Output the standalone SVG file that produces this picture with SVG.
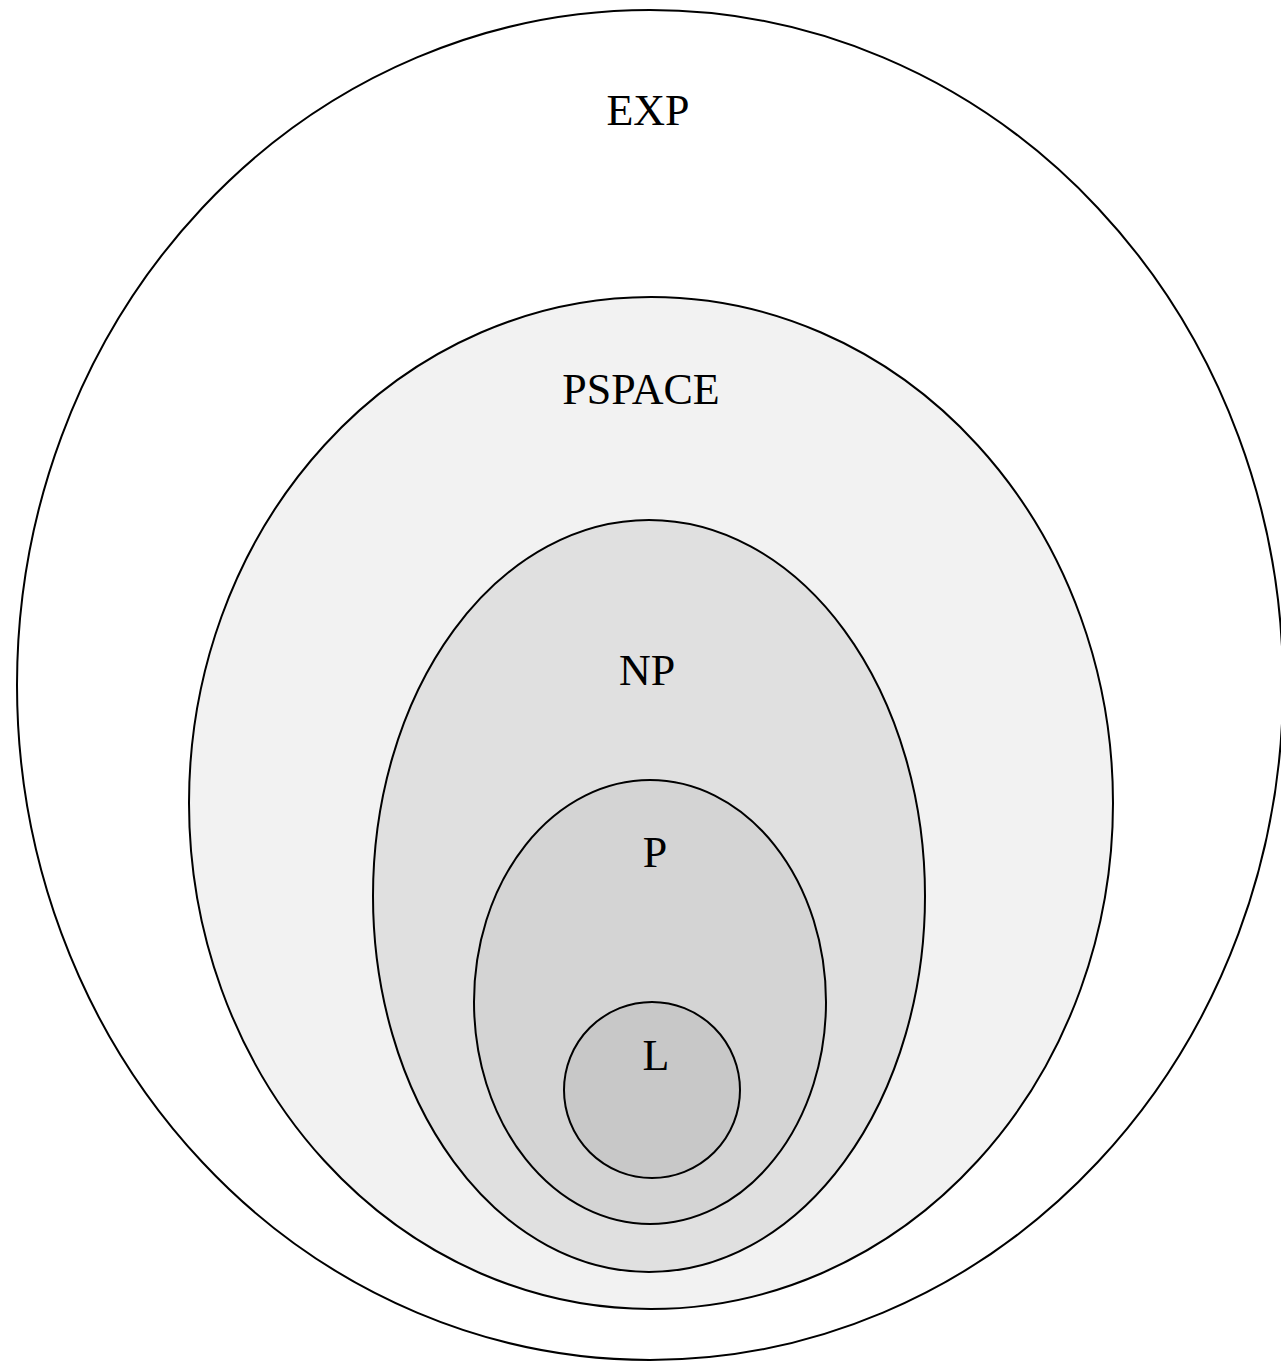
<svg xmlns="http://www.w3.org/2000/svg" width="1281" height="1362" viewBox="0 0 1281 1362">
<style>
.set{stroke:#000;stroke-width:2}
.lbl{font-family:"Liberation Serif","DejaVu Serif",serif;font-size:44px;fill:#000;text-anchor:middle}
</style>
<rect width="1281" height="1362" fill="#fff"/>
<g id="EXP"><ellipse class="set" cx="650" cy="685" rx="633" ry="675" fill="#fff"/><text class="lbl" x="648" y="125">EXP</text></g>
<g id="PSPACE"><ellipse class="set" cx="651" cy="803" rx="462" ry="506" fill="#f2f2f2"/><text class="lbl" x="641" y="404">PSPACE</text></g>
<g id="NP"><ellipse class="set" cx="649" cy="896" rx="276" ry="376" fill="#e0e0e0"/><text class="lbl" x="647" y="685">NP</text></g>
<g id="P"><ellipse class="set" cx="650" cy="1002" rx="176" ry="222" fill="#d4d4d4"/><text class="lbl" x="655" y="867">P</text></g>
<g id="L"><ellipse class="set" cx="652" cy="1090" rx="88" ry="88" fill="#c8c8c8"/><text class="lbl" x="656" y="1070">L</text></g>
<g id="connectors"/>
</svg>
